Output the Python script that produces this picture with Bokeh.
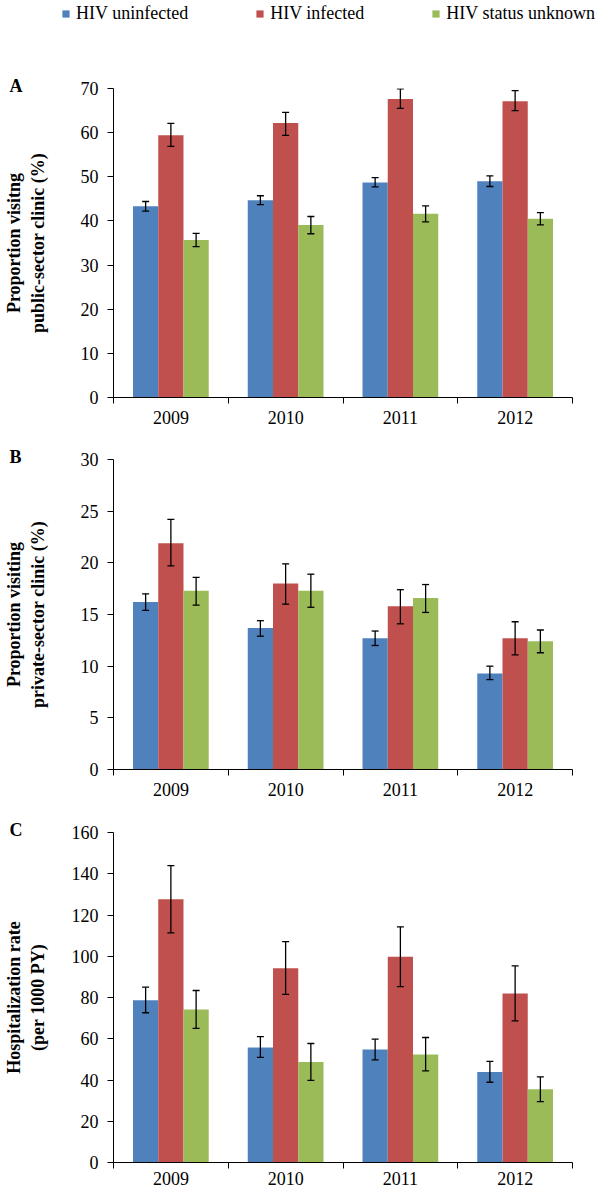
from bokeh.plotting import figure
from bokeh.layouts import column, row
from bokeh.models import (Range1d, FixedTicker, Whisker, TeeHead, ColumnDataSource,
                          Legend, LegendItem, Title)
from bokeh.embed import file_html
from bokeh.resources import INLINE

years = ["2009", "2010", "2011", "2012"]
groups = ["HIV uninfected", "HIV infected", "HIV status unknown"]
colors = ["#4F81BD", "#C0504D", "#9BBB59"]

# Panel A: proportion visiting public-sector clinic (%)
a_uninf = [43.3, 44.7, 48.7, 49.0]
a_uninf_lo = [42.2, 43.7, 47.7, 47.8]
a_uninf_hi = [44.4, 45.7, 49.8, 50.2]
a_inf = [59.4, 62.2, 67.6, 67.1]
a_inf_lo = [56.9, 59.4, 65.5, 65.0]
a_inf_hi = [62.1, 64.6, 69.9, 69.5]
a_unk = [35.7, 39.1, 41.6, 40.5]
a_unk_lo = [34.2, 37.1, 39.8, 39.1]
a_unk_hi = [37.2, 41.0, 43.4, 41.9]

# Panel B: proportion visiting private-sector clinic (%)
b_uninf = [16.2, 13.7, 12.7, 9.3]
b_uninf_lo = [15.4, 12.9, 12.0, 8.7]
b_uninf_hi = [17.0, 14.4, 13.4, 10.0]
b_inf = [21.9, 18.0, 15.8, 12.7]
b_inf_lo = [19.7, 16.0, 14.1, 11.1]
b_inf_hi = [24.2, 19.9, 17.4, 14.3]
b_unk = [17.3, 17.3, 16.6, 12.4]
b_unk_lo = [15.9, 15.7, 15.2, 11.3]
b_unk_hi = [18.6, 18.9, 17.9, 13.5]

# Panel C: hospitalization rate (per 1000 PY)
c_uninf = [78.7, 55.8, 54.8, 43.9]
c_uninf_lo = [72.6, 51.0, 49.8, 38.9]
c_uninf_hi = [85.0, 61.0, 59.8, 49.0]
c_inf = [127.6, 94.2, 99.7, 81.9]
c_inf_lo = [111.3, 81.5, 85.3, 68.7]
c_inf_hi = [143.9, 107.1, 114.2, 95.3]
c_unk = [74.2, 48.7, 52.4, 35.5]
c_unk_lo = [65.0, 39.8, 44.4, 29.5]
c_unk_hi = [83.4, 57.7, 60.6, 41.5]

a_ticks = [0, 10, 20, 30, 40, 50, 60, 70]
b_ticks = [0, 5, 10, 15, 20, 25, 30]
c_ticks = [0, 20, 40, 60, 80, 100, 120, 140, 160]

FONT = "Liberation Serif"
OFFSETS = [0.28, 0.5, 0.72]
BAR_W = 0.22


def make_panel(series, yticks, ylabel, letter, frame_h, top, bottom, lab_standoff, x_standoff):
    n = len(years)
    p = figure(frame_width=459, frame_height=frame_h,
               min_border_left=112, min_border_right=29,
               min_border_top=top, min_border_bottom=bottom,
               x_range=Range1d(0, n), y_range=Range1d(yticks[0], yticks[-1]),
               output_backend="svg", toolbar_location=None)
    p.grid.visible = False
    p.outline_line_color = None
    p.background_fill_color = "white"
    p.border_fill_color = "white"

    renderers = []
    for gi, (mean, lo, hi) in enumerate(series):
        xs = [i + OFFSETS[gi] for i in range(n)]
        src = ColumnDataSource(dict(x=xs, top=mean, lo=lo, hi=hi))
        r = p.vbar(x="x", top="top", bottom=0, width=BAR_W, source=src,
                   fill_color=colors[gi], line_color=None)
        renderers.append(r)
        w = Whisker(base="x", upper="hi", lower="lo", source=src, dimension="height",
                    line_color="black", line_width=1.3, level="overlay",
                    upper_head=TeeHead(size=7, line_color="black", line_width=1.3),
                    lower_head=TeeHead(size=7, line_color="black", line_width=1.3))
        p.add_layout(w)

    xa = p.xaxis[0]
    xa.ticker = FixedTicker(ticks=[i + 0.5 for i in range(n)], minor_ticks=list(range(n + 1)))
    xa.major_label_overrides = {i + 0.5: years[i] for i in range(n)}
    xa.major_tick_line_color = None
    xa.major_tick_in = 0
    xa.major_tick_out = 6
    xa.minor_tick_in = 0
    xa.minor_tick_out = 6
    xa.minor_tick_line_color = "black"
    xa.axis_line_color = "black"
    xa.major_label_text_font = FONT
    xa.major_label_text_font_size = "18px"
    xa.major_label_text_color = "black"
    xa.major_label_standoff = x_standoff

    ya = p.yaxis[0]
    ya.ticker = FixedTicker(ticks=yticks)
    ya.minor_tick_line_color = None
    ya.major_tick_in = 0
    ya.major_tick_out = 6
    ya.axis_line_color = "black"
    ya.major_tick_line_color = "black"
    ya.major_label_text_font = FONT
    ya.major_label_text_font_size = "18px"
    ya.major_label_text_color = "black"
    ya.major_label_standoff = 9
    ya.axis_label = ylabel
    ya.axis_label_text_font = FONT
    ya.axis_label_text_font_style = "bold"
    ya.axis_label_text_font_size = "18px"
    ya.axis_label_text_color = "black"
    ya.axis_label_standoff = lab_standoff

    t = Title(text=letter, align="left", offset=-104, standoff=-15,
              text_font=FONT, text_font_style="bold", text_font_size="18px",
              text_color="black")
    p.add_layout(t, "above")
    return p, renderers


# legend strip at the top
pl = figure(frame_width=600, frame_height=26, min_border_left=0, min_border_right=0,
            min_border_top=0, min_border_bottom=0,
            x_axis_type=None, y_axis_type=None,
            x_range=Range1d(0, 1), y_range=Range1d(0, 1),
            output_backend="svg", toolbar_location=None)
pl.grid.visible = False
pl.outline_line_color = None
# the legend's renderers hold one bar each, placed outside the visible range
leg_rens = [pl.vbar(x=[5], top=[1], width=0.1, fill_color=colors[i], line_color=None)
            for i in range(3)]
legend = Legend(items=[LegendItem(label=groups[i], renderers=[leg_rens[i]]) for i in range(3)],
                orientation="horizontal", location=(61, 2),
                label_text_font=FONT, label_text_font_size="18px", label_text_color="black",
                glyph_width=9, glyph_height=9, label_standoff=6, spacing=67,
                padding=0, margin=0, border_line_color=None, background_fill_alpha=0)
pl.add_layout(legend)

pa, _ = make_panel([(a_uninf, a_uninf_lo, a_uninf_hi),
                    (a_inf, a_inf_lo, a_inf_hi),
                    (a_unk, a_unk_lo, a_unk_hi)],
                   a_ticks, "Proportion visitng\npublic-sector clinic (%)", "A",
                   309, 62, 36, 30, 7)

pb, _ = make_panel([(b_uninf, b_uninf_lo, b_uninf_hi),
                    (b_inf, b_inf_lo, b_inf_hi),
                    (b_unk, b_unk_lo, b_unk_hi)],
                   b_ticks, "Proportion visiting\nprivate-sector clinic (%)", "B",
                   310, 26, 36, 30, 7)

pc, _ = make_panel([(c_uninf, c_uninf_lo, c_uninf_hi),
                    (c_inf, c_inf_lo, c_inf_hi),
                    (c_unk, c_unk_lo, c_unk_hi)],
                   c_ticks, "Hospitalization rate\n(per 1000 PY)", "C",
                   330, 27, 31, 21, 3)

layout = column(row(pl, spacing=0), column(pa, pb, pc, spacing=0), spacing=0)
open("out.html", "w").write(file_html(layout, INLINE))
